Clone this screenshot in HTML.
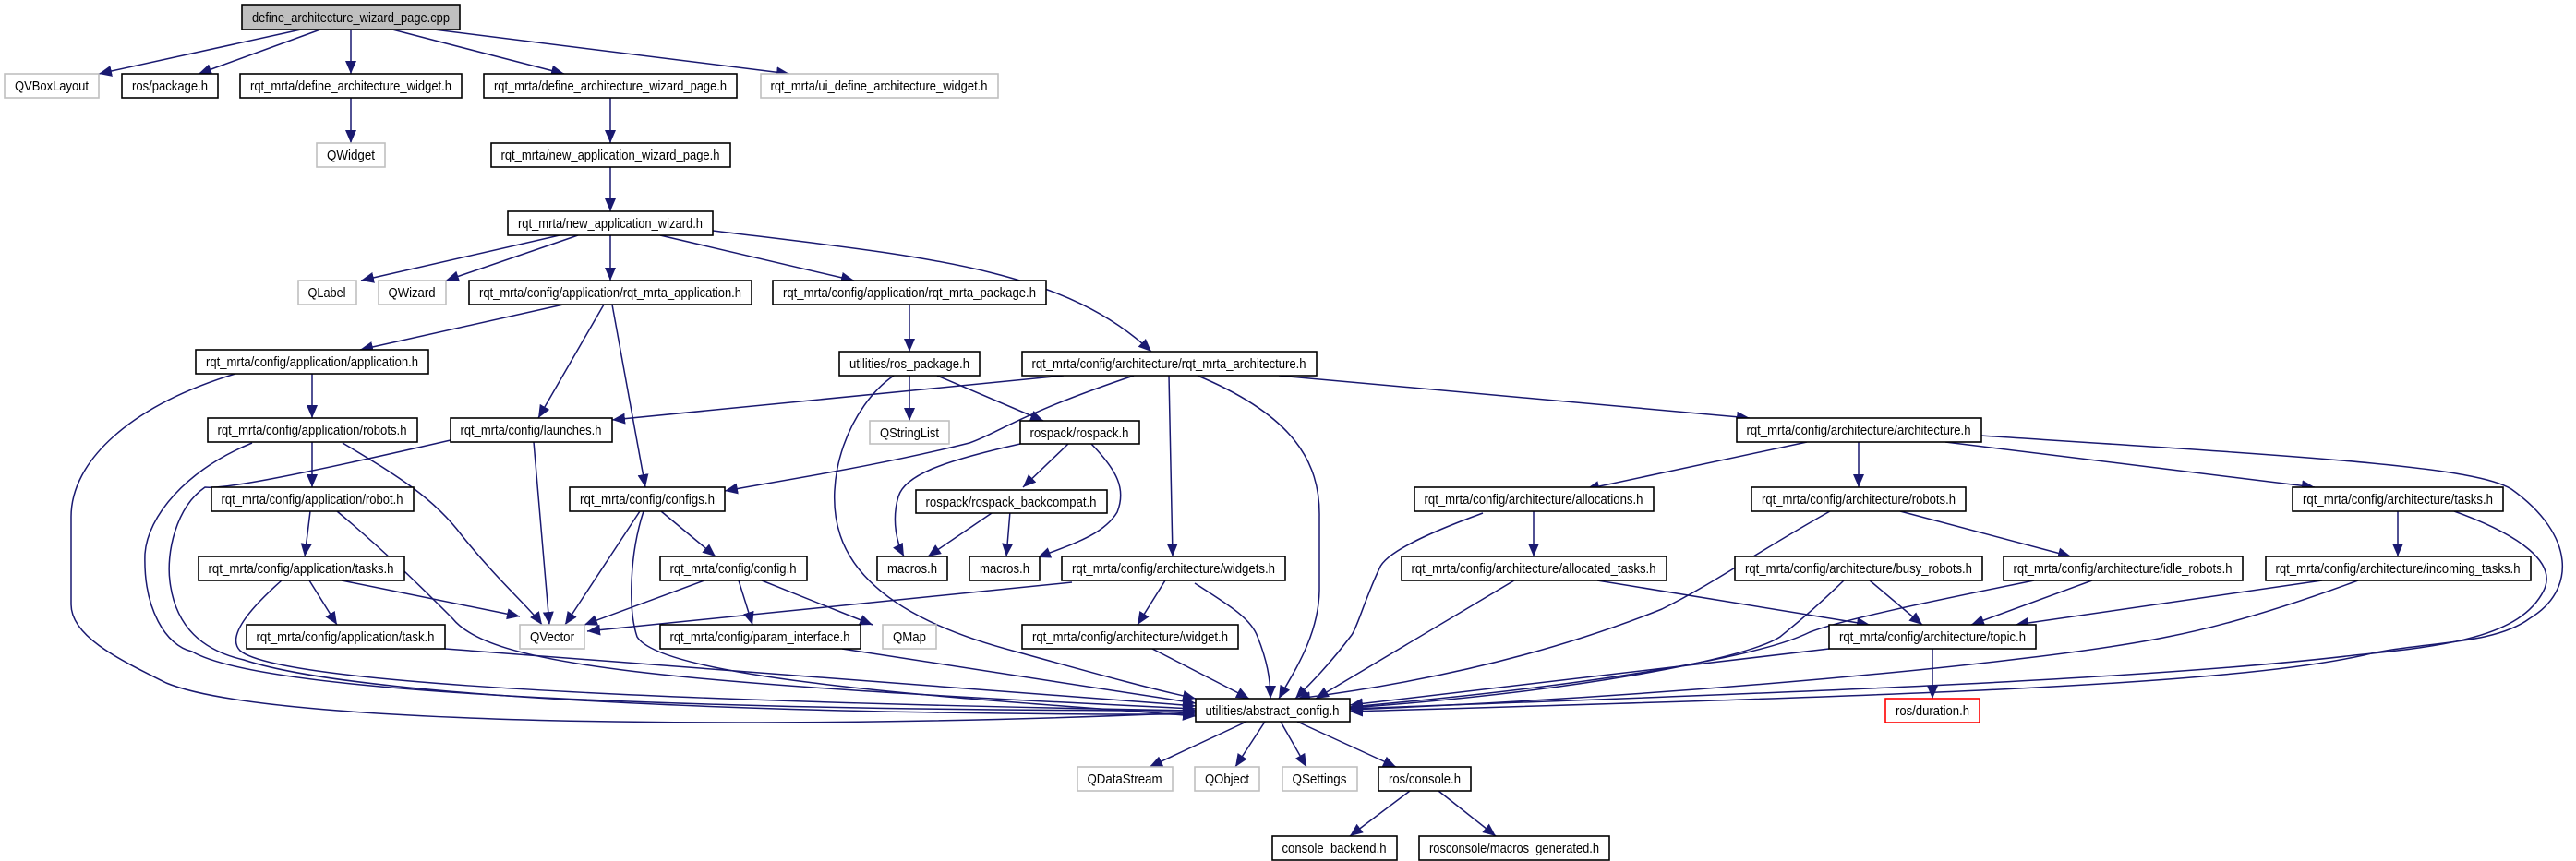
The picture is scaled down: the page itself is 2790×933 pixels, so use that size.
<!DOCTYPE html>
<html><head><meta charset="utf-8"><style>
html,body{margin:0;padding:0;background:#fff;}
svg{display:block;}
text{font-family:"Liberation Sans",sans-serif;font-size:15px;fill:#000;}
.n{fill:#fff;stroke:#000;stroke-width:1.6;}
.g{fill:#fff;stroke:#bfbfbf;stroke-width:1.6;}
.e{fill:none;stroke:#191970;stroke-width:1.5;}
</style></head><body>
<svg width="2790" height="933" viewBox="0 0 2790 933" xmlns="http://www.w3.org/2000/svg">
<defs><marker id="a" markerUnits="userSpaceOnUse" markerWidth="16" markerHeight="14" refX="14" refY="6" orient="auto"><path d="M0,0 L14,6 L0,12 Z" fill="#191970"/></marker></defs>
<g class="edges">
<path class="e" marker-end="url(#a)" d="M326,32 L107,80"/>
<path class="e" marker-end="url(#a)" d="M347,32 L215,80"/>
<path class="e" marker-end="url(#a)" d="M380,32 L380,80"/>
<path class="e" marker-end="url(#a)" d="M425,32 L611,80"/>
<path class="e" marker-end="url(#a)" d="M470,32 L855,80"/>
<path class="e" marker-end="url(#a)" d="M380,106 L380,155"/>
<path class="e" marker-end="url(#a)" d="M661,106 L661,155"/>
<path class="e" marker-end="url(#a)" d="M661,181 L661,229"/>
<path class="e" marker-end="url(#a)" d="M606,255 L391,304"/>
<path class="e" marker-end="url(#a)" d="M626,255 L483,304"/>
<path class="e" marker-end="url(#a)" d="M661,255 L661,304"/>
<path class="e" marker-end="url(#a)" d="M715,255 L925,304"/>
<path class="e" marker-end="url(#a)" d="M772,250 C 1000,278 1150,290 1247,381"/>
<path class="e" marker-end="url(#a)" d="M610,330 L390,379"/>
<path class="e" marker-end="url(#a)" d="M654,330 L583,453"/>
<path class="e" marker-end="url(#a)" d="M663,330 L699,528"/>
<path class="e" marker-end="url(#a)" d="M985,330 L985,381"/>
<path class="e" marker-end="url(#a)" d="M985,407 L985,456"/>
<path class="e" marker-end="url(#a)" d="M1015,407 L1130,456"/>
<path class="e" marker-end="url(#a)" d="M968,407 C 920,440 890,520 910,580 C 930,640 1000,680 1100,706 C 1180,728 1240,745 1295,757"/>
<path class="e" marker-end="url(#a)" d="M1152,407 L663,455"/>
<path class="e" marker-end="url(#a)" d="M1228,407 C 1100,450 1080,470 1050,480 C 950,505 850,520 785,532"/>
<path class="e" marker-end="url(#a)" d="M1266,407 L1270,603"/>
<path class="e" marker-end="url(#a)" d="M1297,407 C 1400,450 1430,500 1429,560 L 1429,640 C 1428,690 1400,730 1385,757"/>
<path class="e" marker-end="url(#a)" d="M1385,407 L1895,453"/>
<path class="e" marker-end="url(#a)" d="M338,405 L338,453"/>
<path class="e" marker-end="url(#a)" d="M255,405 C 140,440 77,500 77,560 L 77,655 C 77,690 130,715 180,740 C 300,790 900,790 1295,772"/>
<path class="e" marker-end="url(#a)" d="M338,479 L338,528"/>
<path class="e" marker-end="url(#a)" d="M371,480 C 430,515 470,540 500,580 C 540,630 575,660 587,677"/>
<path class="e" marker-end="url(#a)" d="M273,480 C 200,510 160,560 157,600 C 155,660 180,700 208,706 C 300,760 900,770 1295,770"/>
<path class="e" marker-end="url(#a)" d="M578,479 L595,677"/>
<path class="e" marker-end="url(#a)" d="M488,477 C 300,520 240,530 222,528 C 190,550 180,600 184,630 C 190,680 220,705 264,715 C 400,760 900,775 1295,774"/>
<path class="e" marker-end="url(#a)" d="M336,554 L330,603"/>
<path class="e" marker-end="url(#a)" d="M365,554 C 420,600 460,640 490,670 C 530,720 700,740 1295,768"/>
<path class="e" marker-end="url(#a)" d="M693,554 L612,677"/>
<path class="e" marker-end="url(#a)" d="M716,554 L775,603"/>
<path class="e" marker-end="url(#a)" d="M697,554 C 682,600 680,660 690,690 C 720,740 1100,760 1295,776"/>
<path class="e" marker-end="url(#a)" d="M763,629 L633,677"/>
<path class="e" marker-end="url(#a)" d="M800,629 L815,677"/>
<path class="e" marker-end="url(#a)" d="M825,629 L945,677"/>
<path class="e" marker-end="url(#a)" d="M335,629 L365,677"/>
<path class="e" marker-end="url(#a)" d="M370,629 L563,668"/>
<path class="e" marker-end="url(#a)" d="M305,629 C 270,660 245,690 260,705 C 300,740 700,760 1295,770"/>
<path class="e" marker-end="url(#a)" d="M482,703 L1295,765"/>
<path class="e" marker-end="url(#a)" d="M912,703 L1295,762"/>
<path class="e" marker-end="url(#a)" d="M1161,631 L636,684"/>
<path class="e" marker-end="url(#a)" d="M1262,629 L1232,677"/>
<path class="e" marker-end="url(#a)" d="M1294,632 C 1330,655 1355,670 1362,690 C 1372,715 1376,735 1376,757"/>
<path class="e" marker-end="url(#a)" d="M1248,703 L1353,757"/>
<path class="e" marker-end="url(#a)" d="M1157,481 L1108,528"/>
<path class="e" marker-end="url(#a)" d="M1105,481 C 1020,500 980,515 973,538 C 965,565 972,590 979,603"/>
<path class="e" marker-end="url(#a)" d="M1182,481 C 1210,510 1220,530 1210,555 C 1195,580 1160,590 1124,604"/>
<path class="e" marker-end="url(#a)" d="M1077,554 L1005,603"/>
<path class="e" marker-end="url(#a)" d="M1094,554 L1090,603"/>
<path class="e" marker-end="url(#a)" d="M1957,479 L1718,530"/>
<path class="e" marker-end="url(#a)" d="M2013,479 L2013,528"/>
<path class="e" marker-end="url(#a)" d="M2107,479 L2507,528"/>
<path class="e" marker-end="url(#a)" d="M2145,472 C 2500,495 2680,505 2720,530 C 2790,580 2790,640 2740,670 C 2700,700 2620,695 2560,710 C 2400,745 2000,755 1462,771"/>
<path class="e" marker-end="url(#a)" d="M2597,554 L2597,603"/>
<path class="e" marker-end="url(#a)" d="M2658,554 C 2730,580 2770,610 2755,640 C 2730,690 2650,700 2550,710 C 2300,740 1800,755 1462,768"/>
<path class="e" marker-end="url(#a)" d="M2058,554 L2243,603"/>
<path class="e" marker-end="url(#a)" d="M1982,554 C 1900,600 1860,630 1800,660 C 1650,720 1500,745 1405,757"/>
<path class="e" marker-end="url(#a)" d="M1661,554 L1661,603"/>
<path class="e" marker-end="url(#a)" d="M1606,556 C 1540,580 1500,600 1494,616 C 1478,650 1470,680 1464,688 C 1440,720 1420,740 1403,757"/>
<path class="e" marker-end="url(#a)" d="M1640,629 L1425,757"/>
<path class="e" marker-end="url(#a)" d="M1730,629 L2025,677"/>
<path class="e" marker-end="url(#a)" d="M2025,629 L2082,677"/>
<path class="e" marker-end="url(#a)" d="M1997,629 C 1960,665 1940,680 1928,690 C 1890,715 1700,750 1462,767"/>
<path class="e" marker-end="url(#a)" d="M2266,629 L2135,677"/>
<path class="e" marker-end="url(#a)" d="M2203,629 C 2100,650 2000,670 1960,685 C 1900,715 1700,745 1462,766"/>
<path class="e" marker-end="url(#a)" d="M2515,629 L2183,677"/>
<path class="e" marker-end="url(#a)" d="M2554,629 C 2470,660 2400,680 2348,690 C 2200,720 1800,755 1462,769"/>
<path class="e" marker-end="url(#a)" d="M2093,703 L2093,757"/>
<path class="e" marker-end="url(#a)" d="M1981,703 L1462,764"/>
<path class="e" marker-end="url(#a)" d="M1350,782 L1245,831"/>
<path class="e" marker-end="url(#a)" d="M1370,782 L1338,831"/>
<path class="e" marker-end="url(#a)" d="M1387,782 L1415,831"/>
<path class="e" marker-end="url(#a)" d="M1405,782 L1512,831"/>
<path class="e" marker-end="url(#a)" d="M1527,857 L1462,906"/>
<path class="e" marker-end="url(#a)" d="M1558,857 L1620,906"/>
</g>
<g class="nodes">
<rect x="262" y="5" width="236" height="27" fill="#bfbfbf" stroke="#000" stroke-width="1.6"/><text x="380" y="24" text-anchor="middle" textLength="214" lengthAdjust="spacingAndGlyphs">define_architecture_wizard_page.cpp</text>
<rect class="g" x="5" y="80" width="102" height="26"/><text x="56" y="98" text-anchor="middle" textLength="80" lengthAdjust="spacingAndGlyphs">QVBoxLayout</text>
<rect class="n" x="132" y="80" width="104" height="26"/><text x="184" y="98" text-anchor="middle" textLength="82" lengthAdjust="spacingAndGlyphs">ros/package.h</text>
<rect class="n" x="260" y="80" width="240" height="26"/><text x="380" y="98" text-anchor="middle" textLength="218" lengthAdjust="spacingAndGlyphs">rqt_mrta/define_architecture_widget.h</text>
<rect class="n" x="524" y="80" width="274" height="26"/><text x="661" y="98" text-anchor="middle" textLength="252" lengthAdjust="spacingAndGlyphs">rqt_mrta/define_architecture_wizard_page.h</text>
<rect class="g" x="824" y="80" width="257" height="26"/><text x="952" y="98" text-anchor="middle" textLength="235" lengthAdjust="spacingAndGlyphs">rqt_mrta/ui_define_architecture_widget.h</text>
<rect class="g" x="343" y="155" width="74" height="26"/><text x="380" y="173" text-anchor="middle" textLength="52" lengthAdjust="spacingAndGlyphs">QWidget</text>
<rect class="n" x="532" y="155" width="259" height="26"/><text x="661" y="173" text-anchor="middle" textLength="237" lengthAdjust="spacingAndGlyphs">rqt_mrta/new_application_wizard_page.h</text>
<rect class="n" x="550" y="229" width="222" height="26"/><text x="661" y="247" text-anchor="middle" textLength="200" lengthAdjust="spacingAndGlyphs">rqt_mrta/new_application_wizard.h</text>
<rect class="g" x="323" y="304" width="63" height="26"/><text x="354" y="322" text-anchor="middle" textLength="41" lengthAdjust="spacingAndGlyphs">QLabel</text>
<rect class="g" x="410" y="304" width="73" height="26"/><text x="446" y="322" text-anchor="middle" textLength="51" lengthAdjust="spacingAndGlyphs">QWizard</text>
<rect class="n" x="508" y="304" width="306" height="26"/><text x="661" y="322" text-anchor="middle" textLength="284" lengthAdjust="spacingAndGlyphs">rqt_mrta/config/application/rqt_mrta_application.h</text>
<rect class="n" x="837" y="304" width="296" height="26"/><text x="985" y="322" text-anchor="middle" textLength="274" lengthAdjust="spacingAndGlyphs">rqt_mrta/config/application/rqt_mrta_package.h</text>
<rect class="n" x="212" y="379" width="252" height="26"/><text x="338" y="397" text-anchor="middle" textLength="230" lengthAdjust="spacingAndGlyphs">rqt_mrta/config/application/application.h</text>
<rect class="n" x="909" y="381" width="152" height="26"/><text x="985" y="399" text-anchor="middle" textLength="130" lengthAdjust="spacingAndGlyphs">utilities/ros_package.h</text>
<rect class="n" x="1107" y="381" width="319" height="26"/><text x="1266" y="399" text-anchor="middle" textLength="297" lengthAdjust="spacingAndGlyphs">rqt_mrta/config/architecture/rqt_mrta_architecture.h</text>
<rect class="n" x="225" y="453" width="227" height="26"/><text x="338" y="471" text-anchor="middle" textLength="205" lengthAdjust="spacingAndGlyphs">rqt_mrta/config/application/robots.h</text>
<rect class="n" x="488" y="453" width="175" height="26"/><text x="575" y="471" text-anchor="middle" textLength="153" lengthAdjust="spacingAndGlyphs">rqt_mrta/config/launches.h</text>
<rect class="g" x="942" y="456" width="86" height="25"/><text x="985" y="474" text-anchor="middle" textLength="64" lengthAdjust="spacingAndGlyphs">QStringList</text>
<rect class="n" x="1105" y="456" width="129" height="25"/><text x="1169" y="474" text-anchor="middle" textLength="107" lengthAdjust="spacingAndGlyphs">rospack/rospack.h</text>
<rect class="n" x="1881" y="453" width="265" height="26"/><text x="2013" y="471" text-anchor="middle" textLength="243" lengthAdjust="spacingAndGlyphs">rqt_mrta/config/architecture/architecture.h</text>
<rect class="n" x="229" y="528" width="219" height="26"/><text x="338" y="546" text-anchor="middle" textLength="197" lengthAdjust="spacingAndGlyphs">rqt_mrta/config/application/robot.h</text>
<rect class="n" x="617" y="528" width="168" height="26"/><text x="701" y="546" text-anchor="middle" textLength="146" lengthAdjust="spacingAndGlyphs">rqt_mrta/config/configs.h</text>
<rect class="n" x="992" y="531" width="207" height="25"/><text x="1095" y="549" text-anchor="middle" textLength="185" lengthAdjust="spacingAndGlyphs">rospack/rospack_backcompat.h</text>
<rect class="n" x="1532" y="528" width="259" height="26"/><text x="1661" y="546" text-anchor="middle" textLength="237" lengthAdjust="spacingAndGlyphs">rqt_mrta/config/architecture/allocations.h</text>
<rect class="n" x="1897" y="528" width="232" height="26"/><text x="2013" y="546" text-anchor="middle" textLength="210" lengthAdjust="spacingAndGlyphs">rqt_mrta/config/architecture/robots.h</text>
<rect class="n" x="2483" y="528" width="228" height="26"/><text x="2597" y="546" text-anchor="middle" textLength="206" lengthAdjust="spacingAndGlyphs">rqt_mrta/config/architecture/tasks.h</text>
<rect class="n" x="215" y="603" width="223" height="26"/><text x="326" y="621" text-anchor="middle" textLength="201" lengthAdjust="spacingAndGlyphs">rqt_mrta/config/application/tasks.h</text>
<rect class="n" x="715" y="603" width="159" height="26"/><text x="794" y="621" text-anchor="middle" textLength="137" lengthAdjust="spacingAndGlyphs">rqt_mrta/config/config.h</text>
<rect class="n" x="950" y="603" width="76" height="26"/><text x="988" y="621" text-anchor="middle" textLength="54" lengthAdjust="spacingAndGlyphs">macros.h</text>
<rect class="n" x="1050" y="603" width="76" height="26"/><text x="1088" y="621" text-anchor="middle" textLength="54" lengthAdjust="spacingAndGlyphs">macros.h</text>
<rect class="n" x="1150" y="603" width="242" height="26"/><text x="1271" y="621" text-anchor="middle" textLength="220" lengthAdjust="spacingAndGlyphs">rqt_mrta/config/architecture/widgets.h</text>
<rect class="n" x="1518" y="603" width="287" height="26"/><text x="1661" y="621" text-anchor="middle" textLength="265" lengthAdjust="spacingAndGlyphs">rqt_mrta/config/architecture/allocated_tasks.h</text>
<rect class="n" x="1879" y="603" width="268" height="26"/><text x="2013" y="621" text-anchor="middle" textLength="246" lengthAdjust="spacingAndGlyphs">rqt_mrta/config/architecture/busy_robots.h</text>
<rect class="n" x="2170" y="603" width="259" height="26"/><text x="2299" y="621" text-anchor="middle" textLength="237" lengthAdjust="spacingAndGlyphs">rqt_mrta/config/architecture/idle_robots.h</text>
<rect class="n" x="2454" y="603" width="287" height="26"/><text x="2597" y="621" text-anchor="middle" textLength="265" lengthAdjust="spacingAndGlyphs">rqt_mrta/config/architecture/incoming_tasks.h</text>
<rect class="n" x="267" y="677" width="215" height="26"/><text x="374" y="695" text-anchor="middle" textLength="193" lengthAdjust="spacingAndGlyphs">rqt_mrta/config/application/task.h</text>
<rect class="g" x="563" y="677" width="70" height="26"/><text x="598" y="695" text-anchor="middle" textLength="48" lengthAdjust="spacingAndGlyphs">QVector</text>
<rect class="n" x="715" y="677" width="217" height="26"/><text x="823" y="695" text-anchor="middle" textLength="195" lengthAdjust="spacingAndGlyphs">rqt_mrta/config/param_interface.h</text>
<rect class="g" x="956" y="677" width="58" height="26"/><text x="985" y="695" text-anchor="middle" textLength="36" lengthAdjust="spacingAndGlyphs">QMap</text>
<rect class="n" x="1107" y="677" width="234" height="26"/><text x="1224" y="695" text-anchor="middle" textLength="212" lengthAdjust="spacingAndGlyphs">rqt_mrta/config/architecture/widget.h</text>
<rect class="n" x="1981" y="677" width="224" height="26"/><text x="2093" y="695" text-anchor="middle" textLength="202" lengthAdjust="spacingAndGlyphs">rqt_mrta/config/architecture/topic.h</text>
<rect class="n" x="1295" y="757" width="167" height="25"/><text x="1378" y="775" text-anchor="middle" textLength="145" lengthAdjust="spacingAndGlyphs">utilities/abstract_config.h</text>
<rect x="2042" y="757" width="102" height="26" fill="#fff" stroke="#ff0000" stroke-width="1.6"/><text x="2093" y="775" text-anchor="middle" textLength="80" lengthAdjust="spacingAndGlyphs">ros/duration.h</text>
<rect class="g" x="1167" y="831" width="103" height="26"/><text x="1218" y="849" text-anchor="middle" textLength="81" lengthAdjust="spacingAndGlyphs">QDataStream</text>
<rect class="g" x="1294" y="831" width="70" height="26"/><text x="1329" y="849" text-anchor="middle" textLength="48" lengthAdjust="spacingAndGlyphs">QObject</text>
<rect class="g" x="1389" y="831" width="81" height="26"/><text x="1429" y="849" text-anchor="middle" textLength="59" lengthAdjust="spacingAndGlyphs">QSettings</text>
<rect class="n" x="1493" y="831" width="100" height="26"/><text x="1543" y="849" text-anchor="middle" textLength="78" lengthAdjust="spacingAndGlyphs">ros/console.h</text>
<rect class="n" x="1378" y="906" width="135" height="26"/><text x="1445" y="924" text-anchor="middle" textLength="113" lengthAdjust="spacingAndGlyphs">console_backend.h</text>
<rect class="n" x="1537" y="906" width="206" height="26"/><text x="1640" y="924" text-anchor="middle" textLength="184" lengthAdjust="spacingAndGlyphs">rosconsole/macros_generated.h</text>
</g>
</svg>
</body></html>
